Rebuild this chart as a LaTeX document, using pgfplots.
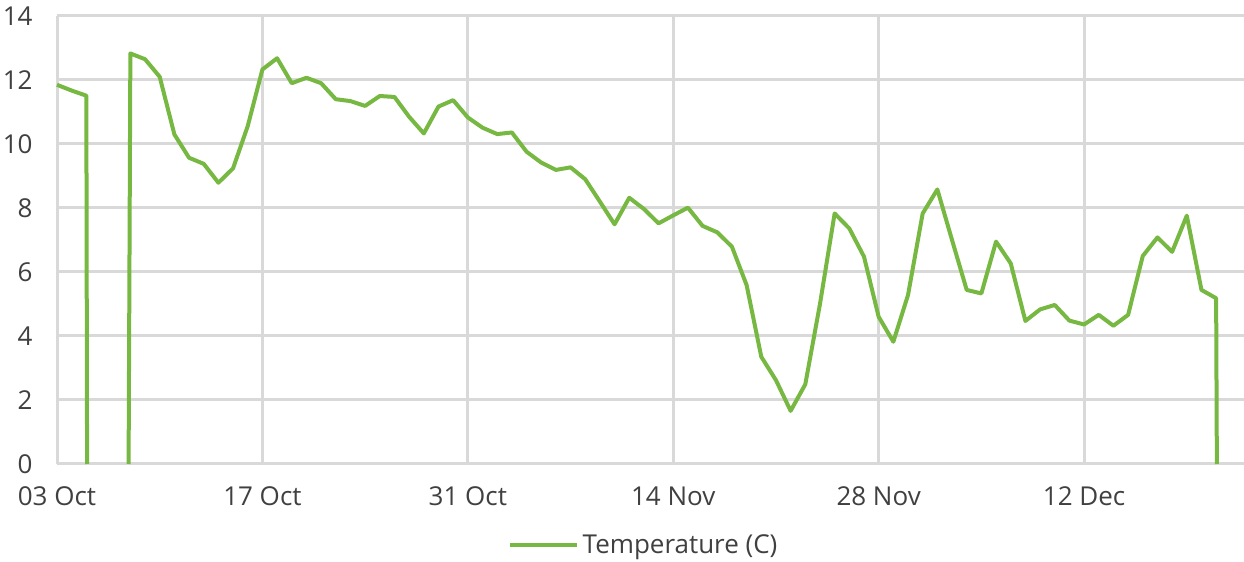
\documentclass[border=0pt]{standalone}
\usepackage{pgfplots}
\pgfplotsset{compat=1.18}
\usepackage{fontspec}
\setmainfont{Open Sans}
\definecolor{linegreen}{RGB}{118,184,66}
\definecolor{gridgray}{RGB}{217,217,217}
\definecolor{txt}{RGB}{64,64,64}
\begin{document}
\begin{tikzpicture}
\begin{axis}[
  scale only axis,
  width=593.5pt, height=224pt,
  xmin=0, xmax=80.9, ymin=0, ymax=14,
  clip=false,
  axis line style={draw=none},
  grid=major,
  major grid style={gridgray, line width=1.5pt},
  major tick length=0pt,
  xtick={0,14,28,42,56,70},
  xticklabels={03 Oct,17 Oct,31 Oct,14 Nov,28 Nov,12 Dec},
  ytick={0,2,4,6,8,10,12,14},
  /pgf/number format/assume math mode=true,
  tick label style={font=\fontsize{13}{15}\selectfont, text=txt},
  xticklabel style={anchor=center, yshift=-16pt},
  yticklabel style={anchor=east, inner sep=0pt, xshift=-12pt},
  legend style={at={(0.495,-0.181)}, anchor=center, draw=none, fill=none,
    font=\fontsize{13}{15}\selectfont, text=txt, inner sep=0pt},
  legend cell align=left,
  legend image code/.code={\draw[#1] (0pt,0pt) -- (33.5pt,0pt);},
  unbounded coords=jump,
]
\addplot[linegreen, line width=2pt, line join=round] table {
x y
0 11.85
1 11.67
2 11.51
2.05 0
3 nan
4.88 0
5 12.83
6 12.65
7 12.1
8 10.30
9 9.57
10 9.38
11 8.79
12 9.24
13 10.56
14 12.33
15 12.68
16 11.9
17 12.07
18 11.9
19 11.40
20 11.34
21 11.19
22 11.5
23 11.47
24 10.85
25 10.33
26 11.17
27 11.37
28 10.83
29 10.51
30 10.31
31 10.36
32 9.76
33 9.42
34 9.19
35 9.27
36 8.9
37 8.2
38 7.49
39 8.32
40 7.97
41 7.52
42 7.77
43 8.01
44 7.44
45 7.24
46 6.79
47 5.59
48 3.35
49 2.62
50 1.66
51 2.49
52 5.0
53 7.83
54 7.36
55 6.48
56 4.6
57 3.82
58 5.28
59 7.83
60 8.58
61 7.0
62 5.44
63 5.33
64 6.95
65 6.27
66 4.47
67 4.83
68 4.97
69 4.48
70 4.36
71 4.66
72 4.32
73 4.66
74 6.5
75 7.08
76 6.63
77 7.76
78 5.44
79 5.18
79.05 0
};
\addlegendentry{Temperature (C)}
\coordinate (bl) at (rel axis cs:0,0);
\coordinate (tr) at (rel axis cs:1,1);
\end{axis}
\pgfresetboundingbox
\path[use as bounding box] ([xshift=-28.5pt,yshift=-49pt]bl) rectangle ([yshift=8pt]tr);
\end{tikzpicture}
\end{document}
